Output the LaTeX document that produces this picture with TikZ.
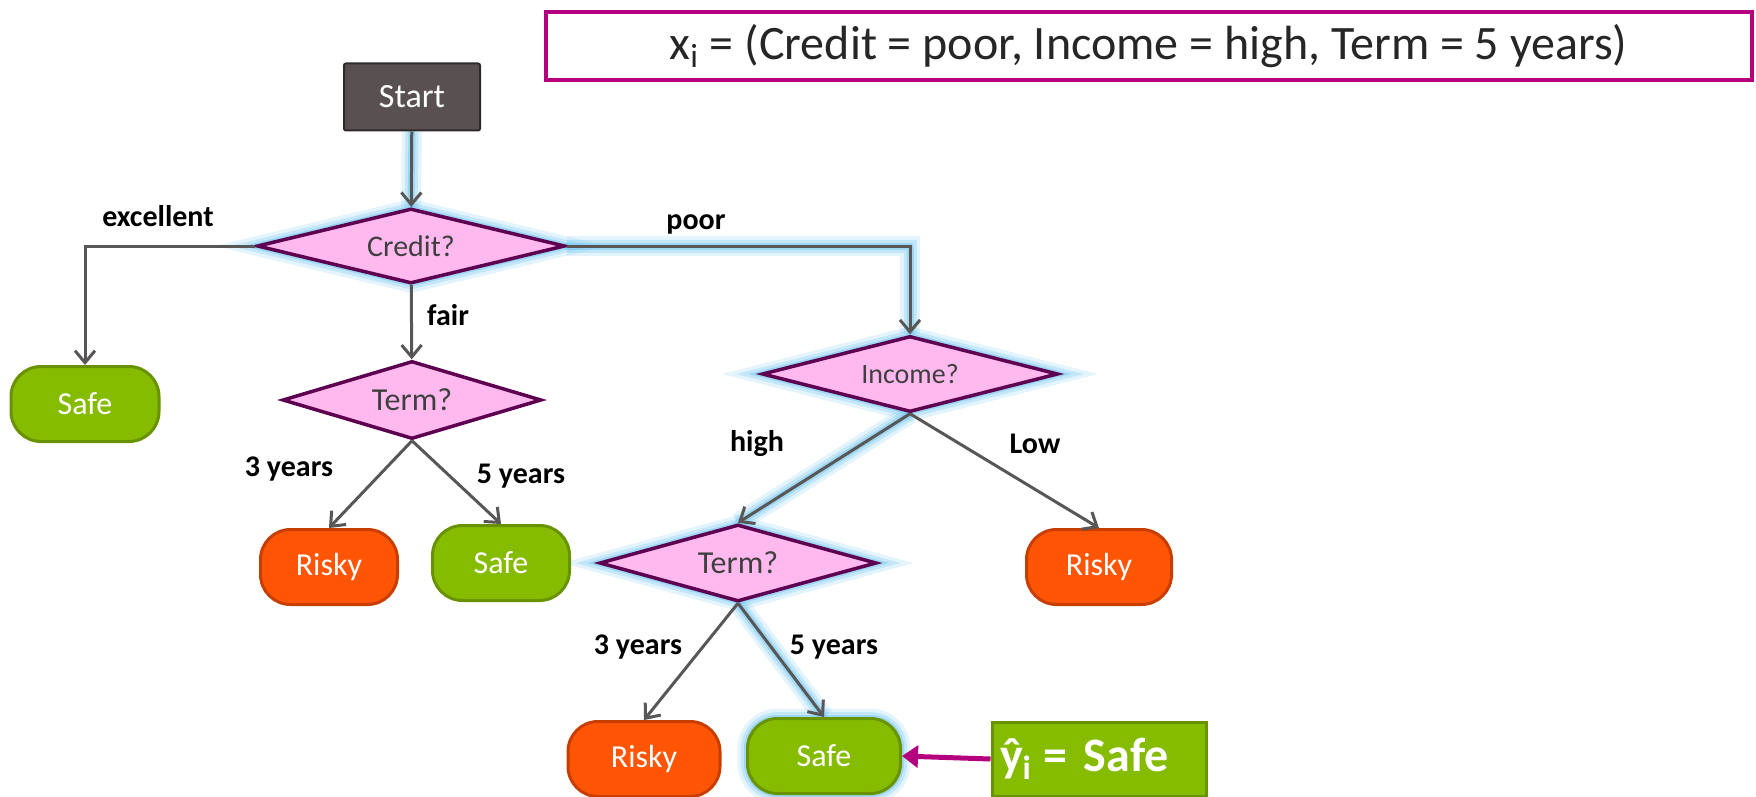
\documentclass[tikz,border=0pt]{standalone}
\usepackage{fontspec}
\setmainfont{Carlito}
\usetikzlibrary{shapes.geometric,arrows.meta,backgrounds}
\definecolor{startfill}{RGB}{89,81,81}
\definecolor{startedge}{RGB}{45,42,42}
\definecolor{qfill}{RGB}{255,185,238}
\definecolor{qedge}{RGB}{94,0,80}
\definecolor{qtext}{RGB}{63,63,63}
\definecolor{safefill}{RGB}{134,188,0}
\definecolor{safeedge}{RGB}{104,146,0}
\definecolor{riskyfill}{RGB}{255,85,5}
\definecolor{riskyedge}{RGB}{200,62,0}
\definecolor{edgegray}{RGB}{89,86,86}
\definecolor{predmag}{RGB}{180,0,127}
\definecolor{glowblue}{RGB}{120,200,240}
\begin{document}
\begin{tikzpicture}[x=0.5pt,y=-0.5pt,
  startbox/.style={draw=startedge,fill=startfill,line width=1pt,rounded corners=1pt,text=white,minimum width=68pt,minimum height=33.5pt,font=\fontsize{17}{20}\selectfont},
  question/.style={diamond,draw=qedge,fill=qfill,line width=1.75pt,inner sep=0pt,aspect=4,text=qtext,font=\fontsize{16}{19}\selectfont},
  leaf/.style={rounded corners=15pt,line width=1.5pt,text=white,minimum height=37.5pt,font=\fontsize{16}{19}\selectfont},
  safe/.style={leaf,draw=safeedge,fill=safefill},
  risky/.style={leaf,draw=riskyedge,fill=riskyfill},
  link/.style={draw=edgegray,line width=1.5pt,-{Straight Barb[length=6pt,width=10pt]}},
  lbl/.style={font=\bfseries\fontsize{15}{18}\selectfont},
  glow/.style={draw=glowblue,line width=3.5pt,opacity=.5,line cap=round,line join=round,
    preaction={draw=glowblue,line width=10pt,opacity=.2},
    preaction={draw=glowblue,line width=6.5pt,opacity=.3}},
  nodeglow/.style={preaction={draw=glowblue,line width=10pt,opacity=.2},
    preaction={draw=glowblue,line width=6.5pt,opacity=.3},
    preaction={draw=glowblue,line width=3.5pt,opacity=.5}}
]
\useasboundingbox (0,0) rectangle (1756,797);
% query box
\node[draw=predmag,line width=2pt,minimum width=603pt,minimum height=34pt,text={rgb,255:red,38;green,38;blue,38},font=\fontsize{24}{28}\selectfont] (query) at (1148.5,46.5) {x\textsubscript{i} = (Credit = poor, Income = high, Term = 5 years)};
% tree
\node[startbox] (start) at (412,97) {Start};
\node[question,nodeglow,minimum width=154pt,minimum height=37.5pt,font=\fontsize{15}{18}\selectfont] (credit) at (411,246) {Credit?};
\node[question,minimum width=129.5pt,minimum height=39pt] (term1) at (412,400) {Term?};
\node[question,nodeglow,minimum width=148pt,minimum height=38pt,font=\fontsize{14}{17}\selectfont] (income) at (910,374) {Income?};
\node[question,nodeglow,minimum width=138.5pt,minimum height=38.5pt] (term2) at (738,563) {Term?};
\node[safe,minimum width=74pt] (safe1) at (85,404) {Safe};
\node[risky,minimum width=68.5pt] (risky1) at (329,567) {Risky};
\node[safe,minimum width=68.5pt] (safe2) at (501,563) {Safe};
\node[risky,minimum width=72.5pt] (risky2) at (1099,567) {Risky};
\node[risky,minimum width=76pt] (risky3) at (644,759) {Risky};
\node[safe,nodeglow,minimum width=76.5pt] (safe3) at (824,756) {Safe};
% prediction
\node[draw=safeedge,fill=safefill,line width=1.5pt,minimum height=37pt,text width=99pt,align=left,inner xsep=4pt,text=white,font=\bfseries\fontsize{24}{28}\selectfont] (yhat) at (1099,759) {ŷ\textsubscript{i}\hspace{-2pt} = Safe};
% glow of chosen path
\begin{pgfonlayer}{background}
\draw[glow] (start.south) -- (credit.north);
\draw[glow] (credit.east) -| (income.north);
\draw[glow] (income.south) -- (term2.north);
\draw[glow] (term2.south) -- (safe3.north);
\end{pgfonlayer}
% connectors
\draw[link] (start) -- (credit);
\draw[link] (credit.west) -| (safe1.north);
\draw[link] (credit) -- (term1);
\draw[link] (credit.east) -| (income.north);
\draw[link] (term1.south) -- (risky1.north);
\draw[link] (term1.south) -- (safe2.north);
\draw[link] (income.south) -- (term2.north);
\draw[link] (income.south) -- (risky2.north);
\draw[link] (term2.south) -- (risky3.north);
\draw[link] (term2.south) -- (safe3.north);
\draw[predmag,line width=2.5pt,-{Triangle[length=8pt,width=11pt]}] (yhat.west) -- (safe3.east);
% branch labels
\node[lbl] (l_exc) at (158,216) {excellent};
\node[lbl] (l_fair) at (448,315) {fair};
\node[lbl] (l_poor) at (696,224) {poor};
\node[lbl] (l_high) at (757,444) {high};
\node[lbl] (l_low) at (1035,444) {Low};
\node[lbl] (l_t1a) at (289,469) {3 years};
\node[lbl] (l_t1b) at (521,476) {5 years};
\node[lbl] (l_t2a) at (638,647) {3 years};
\node[lbl] (l_t2b) at (834,647) {5 years};
\end{tikzpicture}
\end{document}
